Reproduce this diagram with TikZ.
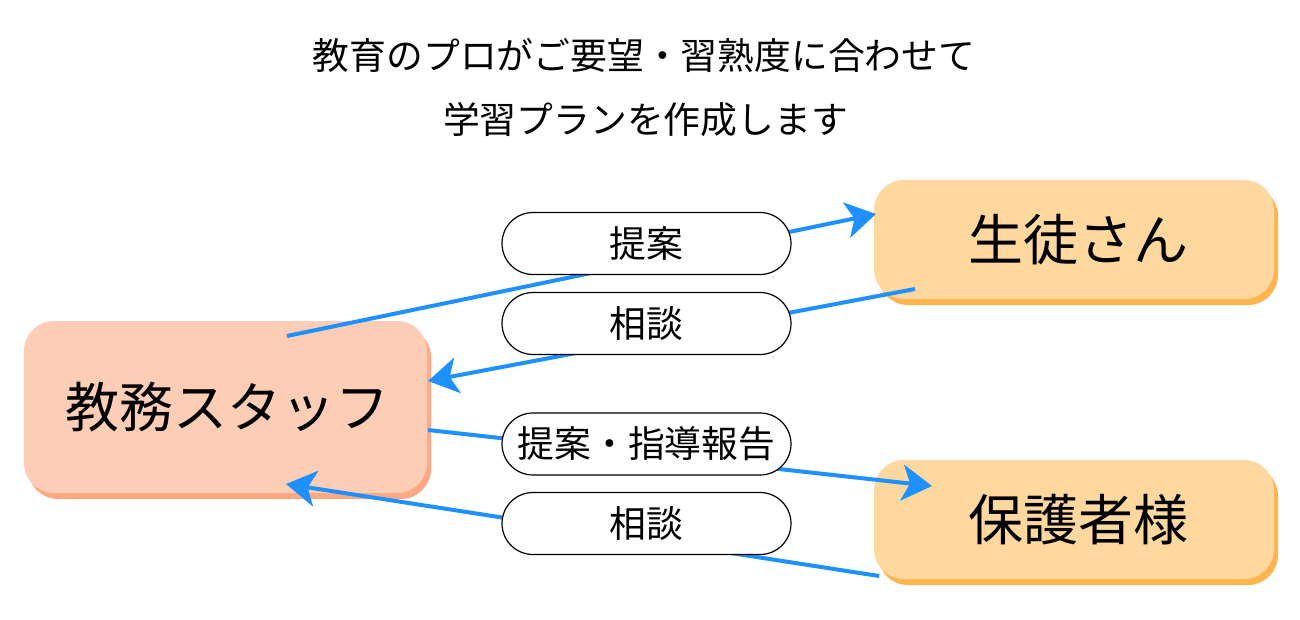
\documentclass[tikz,border=0pt]{standalone}
\usepackage{fontspec}
\setmainfont{Noto Sans CJK JP}
\usetikzlibrary{arrows.meta,shadows}
\definecolor{staffC}{RGB}{253,206,181}
\definecolor{staffS}{RGB}{255,168,130}
\definecolor{userC}{RGB}{254,216,158}
\definecolor{userS}{RGB}{255,180,80}
\definecolor{arrC}{RGB}{30,144,255}
\begin{document}
\begin{tikzpicture}[x=0.5pt,y=-0.5pt,
  titletext/.style={font=\fontsize{18.4}{22}\selectfont, inner sep=0pt},
  staffbox/.style={rounded corners=15pt, fill=staffC, minimum width=201.5pt, minimum height=86pt, inner sep=0pt,
    general shadow={fill=staffS, shadow xshift=2pt, shadow yshift=-3pt},
    font=\fontsize{27}{32}\selectfont},
  userbox/.style={rounded corners=15pt, fill=userC, minimum width=200pt, minimum height=59.5pt, inner sep=0pt,
    general shadow={fill=userS, shadow xshift=2pt, shadow yshift=-3pt},
    font=\fontsize{27.5}{32}\selectfont},
  pill/.style={rounded corners=15.5pt, draw=black, line width=0.6pt, fill=white, minimum width=144.5pt, minimum height=31pt, inner sep=0pt,
    font=\fontsize{18.4}{22}\selectfont},
  arr/.style={draw=arrC, line width=2pt, -{Stealth[length=15pt,width=18pt,inset=4pt]}}
]
\useasboundingbox (0,0) rectangle (1300,620);

\node[titletext] (t1) at (644,55) {教育のプロがご要望・習熟度に合わせて};
\node[titletext] (t2) at (645.5,120) {学習プランを作成します};

\node[staffbox] (staff) at (225.5,407) {\hspace{2pt}教務スタッフ};
\node[userbox] (student) at (1074,239.5) {\hspace{4pt}生徒さん};
\node[userbox] (parent) at (1074,519.5) {\hspace{4pt}保護者様};

\coordinate (l1s) at (287,336);
\coordinate (l1e) at (876,214);
\coordinate (l2s) at (915,289);
\coordinate (l2e) at (428,381);
\coordinate (l3s) at (428,430);
\coordinate (l3e) at (932,486);
\coordinate (l4s) at (879,576);
\coordinate (l4e) at (286,484);

\draw[arr] (l1s) -- (l1e);
\draw[arr] (l2s) -- (l2e);
\draw[arr] (l3s) -- (l3e);
\draw[arr] (l4s) -- (l4e);

\node[pill] (p1) at (646.5,243.5) {提案};
\node[pill] (p2) at (646.5,323.5) {相談};
\node[pill] (p3) at (646.5,444) {提案・指導報告};
\node[pill] (p4) at (646.5,523.5) {相談};
\end{tikzpicture}
\end{document}
